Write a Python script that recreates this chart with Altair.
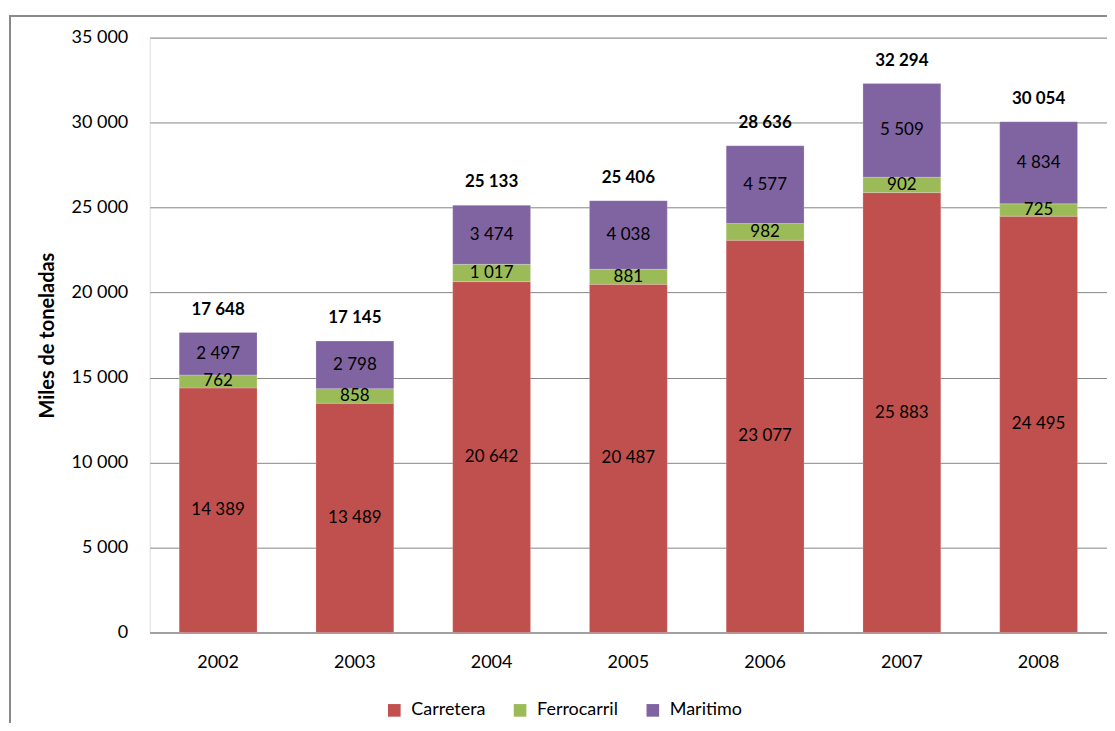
import altair as alt
import pandas as pd

years = ["2002", "2003", "2004", "2005", "2006", "2007", "2008"]
carretera = [14389, 13489, 20642, 20487, 23077, 25883, 24495]
ferrocarril = [762, 858, 1017, 881, 982, 902, 725]
maritimo = [2497, 2798, 3474, 4038, 4577, 5509, 4834]
series = ["Carretera", "Ferrocarril", "Maritimo"]
colors = ["#C0504D", "#9BBB59", "#8064A2"]

def fmt(v):
    return f"{v:,}".replace(",", " ")

rows = []
for i, y in enumerate(years):
    base = 0
    for s, vals in zip(series, [carretera, ferrocarril, maritimo]):
        v = vals[i]
        rows.append({"year": y, "serie": s, "value": v,
                     "y0": base, "y1": base + v, "mid": base + v / 2, "label": fmt(v)})
        base += v
df = pd.DataFrame(rows)
tot = pd.DataFrame({"year": years,
                    "total": [a + b + c for a, b, c in zip(carretera, ferrocarril, maritimo)]})
tot["label"] = tot["total"].apply(fmt)

FONT = "Lato"
W, H = 959, 596

x = alt.X("year:N", title=None, sort=years,
          scale=alt.Scale(paddingInner=0.43, paddingOuter=0.215),
          axis=alt.Axis(labelAngle=0, labelFontSize=18, labelPadding=21, ticks=False,
                        domainColor="#868686", labelColor="#000000", labelFont=FONT))

bars = alt.Chart(df).mark_bar(size=78, stroke="#ffffff", strokeWidth=0.5, strokeOpacity=0.4).encode(
    x=x,
    y=alt.Y("y0:Q", title="Miles de toneladas",
            scale=alt.Scale(domain=[0, 35000], nice=False),
            axis=alt.Axis(values=list(range(0, 35001, 5000)), labelFontSize=18,
                          labelExpr="replace(format(datum.value, ','), ',', ' ')",
                          ticks=False, domain=False, gridColor="#868686", gridWidth=1,
                          labelPadding=22, labelColor="#000000", labelFont=FONT,
                          titleFont=FONT, titleFontSize=20, titleFontWeight="bold",
                          titleColor="#000000", titlePadding=14)),
    y2="y1:Q",
    color=alt.Color("serie:N", scale=alt.Scale(domain=series, range=colors),
                    legend=alt.Legend(title=None, orient="none", direction="horizontal",
                                      legendX=236, legendY=665, symbolType="square",
                                      symbolSize=160, symbolStrokeWidth=0,
                                      labelFont=FONT, labelFontSize=18, labelColor="#000000",
                                      columnPadding=25, labelOffset=8)),
)

seg_labels = alt.Chart(df).mark_text(font=FONT, fontSize=17, color="#000000", baseline="middle").encode(
    x=alt.X("year:N", sort=years),
    y=alt.Y("mid:Q"),
    text="label:N",
)

tot_labels = alt.Chart(tot).mark_text(font=FONT, fontSize=17, fontWeight="bold", color="#000000",
                                       baseline="bottom", dy=-14).encode(
    x=alt.X("year:N", sort=years),
    y=alt.Y("total:Q"),
    text="label:N",
)

frame = alt.Chart(tot).mark_rect(fill=None, stroke="#8a8a8a", strokeWidth=1.5, clip=False).encode(
    x=alt.value(-140), x2=alt.value(W + 200), y=alt.value(-22), y2=alt.value(H + 200)
)

chart = alt.layer(frame, bars, seg_labels, tot_labels).properties(
    width=W, height=H, autosize=alt.AutoSizeParams(type="none"),
    padding={"left": 142, "top": 29, "right": 0, "bottom": 90}
).configure_view(stroke=None).configure(background="#ffffff")

chart.save("out.html", embed_options={"renderer": "svg", "actions": False})
